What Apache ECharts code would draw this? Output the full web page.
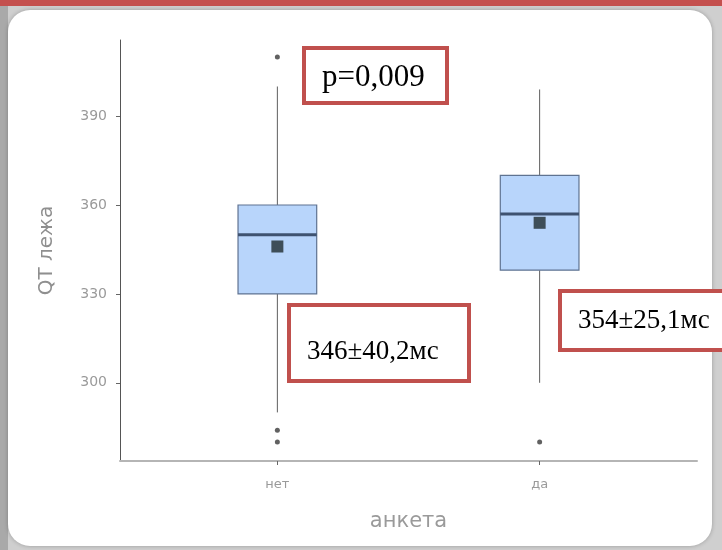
<!DOCTYPE html>
<html><head><meta charset="utf-8">
<script src="https://cdn.jsdelivr.net/npm/echarts@6/dist/echarts.min.js"></script>
<style>html,body{margin:0;padding:0;background:#c4c4c4}#c{width:722px;height:550px}</style>
</head><body><div id="c"></div><script>
// ---- data ----
const categories = ['нет', 'да'];
const whiskerLow = [290, 300];
const q1 = [330, 338];
const median = [350, 357];
const q3 = [360, 370];
const whiskerHigh = [400, 399];
const means = [346, 354];
const outliersNo = [410, 284, 280];
const outliersYes = [280];
const yTicks = [300, 330, 360, 390];
const pText = 'p=0,009';
const statTexts = ['346±40,2мс', '354±25,1мс'];

// ---- build series data ----
const boxData = categories.map((c, i) => [i + 1, whiskerLow[i], q1[i], median[i], q3[i], whiskerHigh[i]]);
const meanData = means.map((m, i) => [i + 1, m]);
const outlierData = outliersNo.map(v => [1, v]).concat(outliersYes.map(v => [2, v]));

const chart = echarts.init(document.getElementById('c'), null, {renderer: 'canvas'});

function annBox(x, y, w, h, text, tx, ty, fs) {
  return {
    type: 'group', z: 100,
    children: [
      {type: 'rect', shape: {x: x, y: y, width: w, height: h},
       style: {fill: '#ffffff', stroke: '#c0504d', lineWidth: 4}, z: 100},
      {type: 'text', x: tx, y: ty, z: 101,
       style: {text: text, fill: '#000', font: fs + 'px "Liberation Serif", "Times New Roman", serif',
               textVerticalAlign: 'middle', textAlign: 'left'}}
    ]
  };
}

const option = {
  backgroundColor: '#c4c4c4',
  animation: false,
  graphic: [
    {type: 'rect', z: -10, shape: {x: 0, y: 0, width: 722, height: 6}, style: {fill: '#c4504e'}},
    {type: 'rect', z: -10, shape: {x: 0, y: 6, width: 722, height: 544}, style: {fill: '#cfcfcf'}},
    {type: 'rect', z: -10, shape: {x: 0, y: 6, width: 8, height: 544}, style: {fill: '#a9a9a9'}},
    {type: 'rect', z: -9, shape: {x: 8, y: 10, width: 704, height: 536, r: 22},
     style: {fill: '#ffffff', shadowBlur: 4, shadowColor: 'rgba(0,0,0,0.25)'}},
    annBox(304, 48, 143, 55, pText, 322, 78, 31),
    annBox(289, 305, 180, 76, statTexts[0], 307, 352, 27),
    annBox(560, 291, 172, 59, statTexts[1], 578, 321, 27)
  ],
  grid: {left: 120, right: 25, top: 40, bottom: 89, containLabel: false, outerBoundsMode: 'none'},
  xAxis: {
    type: 'value', min: 0.4, max: 2.6,
    name: 'анкета', nameLocation: 'middle', nameGap: 50,
    nameTextStyle: {color: '#9a9a9a', fontSize: 21, fontFamily: 'DejaVu Sans'},
    axisLine: {show: true, onZero: false, lineStyle: {color: '#b5b5b5', width: 2}},
    axisTick: {show: true, length: 4, customValues: [1, 2], lineStyle: {color: '#666'}},
    axisLabel: {customValues: [1, 2], color: '#9a9a9a', fontSize: 13, margin: 17,
      fontFamily: 'DejaVu Sans',
      formatter: v => categories[Math.round(v) - 1] || ''},
    splitLine: {show: false}
  },
  yAxis: {
    type: 'value', min: 273.6, max: 415.7,
    name: 'QT лежа', nameLocation: 'middle', nameGap: 63, nameRotate: 90,
    nameTextStyle: {color: '#8f8f8f', fontSize: 20, fontFamily: 'DejaVu Sans'},
    axisLine: {show: true, onZero: false, lineStyle: {color: '#555', width: 1}},
    axisTick: {show: true, length: 4, customValues: yTicks, lineStyle: {color: '#666'}},
    axisLabel: {customValues: yTicks, color: '#9a9a9a', fontSize: 14, margin: 13, fontFamily: 'DejaVu Sans'},
    splitLine: {show: false}
  },
  series: [
    {
      type: 'custom',
      data: boxData,
      encode: {x: 0, y: [1, 2, 3, 4, 5]},
      z: 2,
      renderItem: function (params, api) {
        const x = api.value(0);
        const lo = api.coord([x, api.value(1)]);
        const b1 = api.coord([x, api.value(2)]);
        const md = api.coord([x, api.value(3)]);
        const b3 = api.coord([x, api.value(4)]);
        const hi = api.coord([x, api.value(5)]);
        const half = api.size([0.3, 0])[0] / 2;
        const cx = lo[0];
        return {
          type: 'group',
          children: [
            {type: 'line', shape: {x1: cx, y1: hi[1], x2: cx, y2: b3[1]}, style: {stroke: '#5e5e5e', lineWidth: 1}},
            {type: 'line', shape: {x1: cx, y1: b1[1], x2: cx, y2: lo[1]}, style: {stroke: '#5e5e5e', lineWidth: 1}},
            {type: 'rect', shape: {x: cx - half, y: b3[1], width: half * 2, height: b1[1] - b3[1]},
             style: {fill: '#b8d5fb', stroke: '#5f7391', lineWidth: 1.2}},
            {type: 'line', shape: {x1: cx - half, y1: md[1], x2: cx + half, y2: md[1]},
             style: {stroke: '#3e5270', lineWidth: 3}}
          ]
        };
      }
    },
    {
      type: 'scatter', data: meanData, symbol: 'rect', symbolSize: 12, z: 5,
      itemStyle: {color: '#1f2c30'}
    },
    {
      type: 'scatter', data: outlierData, symbol: 'circle', symbolSize: 5, z: 5,
      itemStyle: {color: '#3a3a3a'}
    }
  ]
};
chart.setOption(option);
</script></body></html>
